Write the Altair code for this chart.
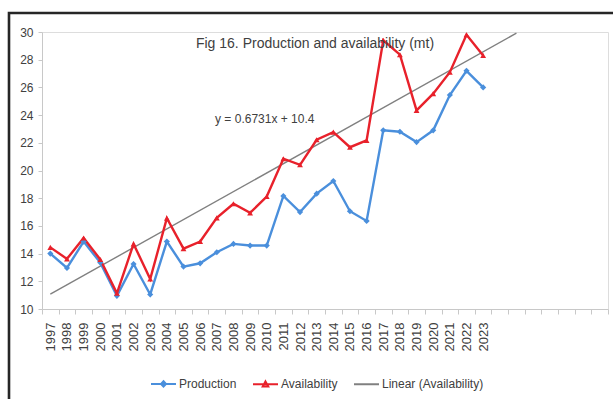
import altair as alt
import pandas as pd

# Years on the category axis (labels shown through 2023, blank slots after)
years = [str(y) for y in range(1997, 2024)]
axis_years = [str(y) for y in range(1997, 2031)]

production = [14.0, 12.96, 14.87, 13.35, 10.95, 13.25, 11.05, 14.87, 13.06, 13.3,
              14.1, 14.7, 14.58, 14.58, 18.16, 17.0, 18.33, 19.24, 17.06, 16.36,
              22.9, 22.8, 22.05, 22.9, 25.45, 27.2, 26.0]
availability = [14.45, 13.62, 15.13, 13.58, 11.13, 14.7, 12.17, 16.55, 14.36, 14.87,
                16.58, 17.6, 16.94, 18.12, 20.85, 20.41, 22.22, 22.77, 21.68, 22.17,
                29.4, 28.36, 24.34, 25.55, 27.1, 29.8, 28.3]

# Linear trend of availability, y = 0.6731x + 10.4, forecast two periods forward
slope, intercept = 0.6731, 10.4
trend_x = [1, 29]
equation = "y = 0.6731x + 10.4"
title_text = "Fig 16. Production and availability (mt)"

series_names = ["Production", "Availability", "Linear (Availability)"]
series_colors = ["#4a8fdc", "#e8212b", "#808080"]
# Legend glyphs: a short line with the series marker in the middle
legend_shapes = [
    "M-1,0H1M0,-0.22L0.2,0L0,0.22L-0.2,0Z",
    "M-1,0H1M0,-0.22L0.22,0.18H-0.22Z",
    "M-1,0H1",
]

FONT = "Liberation Sans Narrow, Liberation Sans, sans-serif"
TEXT = "#404040"

df = pd.DataFrame({
    "year": years * 2,
    "series": ["Production"] * len(years) + ["Availability"] * len(years),
    "value": production + availability,
})
trend = pd.DataFrame({
    "year": [axis_years[i - 1] for i in trend_x],
    "value": [slope * i + intercept for i in trend_x],
})

x_enc = alt.X(
    "year:O",
    scale=alt.Scale(domain=axis_years, paddingInner=0, paddingOuter=0),
    axis=alt.Axis(
        title=None, labelAngle=-90, tickBand="extent",
        labelExpr="toNumber(datum.value) <= 2023 ? datum.value : ''",
        labelFont=FONT, labelFontSize=13, labelColor=TEXT, labelPadding=8,
        domainColor="#c8c8c8", tickColor="#c8c8c8", tickSize=5, grid=False,
    ),
)
y_enc = alt.Y(
    "value:Q",
    scale=alt.Scale(domain=[10, 30], nice=False, zero=False),
    axis=alt.Axis(
        title=None, values=list(range(10, 31, 2)), labelOverlap=False,
        labelFont=FONT, labelFontSize=12, labelColor=TEXT, labelPadding=5,
        domainColor="#c8c8c8", tickColor="#c8c8c8", tickSize=4, grid=False,
    ),
)

base = alt.Chart(df).encode(x=x_enc, y=y_enc)

trend_line = alt.Chart(trend).mark_line(color="#808080", strokeWidth=1.4).encode(
    x=x_enc, y=y_enc
)

prod = base.transform_filter(alt.datum.series == "Production")
avail = base.transform_filter(alt.datum.series == "Availability")

prod_line = prod.mark_line(color=series_colors[0], strokeWidth=2.4)
prod_pts = prod.mark_point(shape="diamond", filled=True, size=38, opacity=1,
                           color=series_colors[0])
avail_line = avail.mark_line(color=series_colors[1], strokeWidth=2.4)
avail_pts = avail.mark_point(shape="triangle-up", filled=True, size=34, opacity=1,
                             color=series_colors[1])

eq_text = alt.Chart(pd.DataFrame({"year": ["2010"], "value": [23.75], "t": [equation]})).mark_text(
    font=FONT, fontSize=12, color=TEXT, dx=-2
).encode(x=x_enc, y=y_enc, text="t:N")

legend_opts = dict(
    title=None, orient="none", direction="horizontal", columns=3,
    legendX=108, legendY=338, symbolSize=625, symbolStrokeWidth=2,
    labelFont=FONT, labelFontSize=12, labelColor=TEXT,
    labelOffset=2, columnPadding=12, symbolOpacity=1,
)

# Legend-only layer: no marks drawn, scales carry the three entries
legend_layer = base.transform_filter("datum.value < 0").mark_point(
    filled=False, strokeWidth=2, opacity=1
).encode(
    color=alt.Color("series:N", scale=alt.Scale(domain=series_names, range=series_colors),
                    legend=alt.Legend(**legend_opts)),
    shape=alt.Shape("series:N", scale=alt.Scale(domain=series_names, range=legend_shapes),
                    legend=alt.Legend(**legend_opts)),
)

# Dark frame around the figure
frame = alt.Chart(alt.Data(values=[{"k": 1}])).mark_rect(
    fill=None, stroke="#262626", strokeWidth=2.6
).encode(x=alt.value(-33), x2=alt.value(700), y=alt.value(-19), y2=alt.value(500))

chart = alt.layer(
    trend_line, prod_line, avail_line, prod_pts, avail_pts, eq_text, legend_layer, frame
).properties(
    width=566, height=277,
    title=alt.TitleParams(title_text, font=FONT, fontSize=14, fontWeight="normal",
                          color=TEXT, anchor="middle", frame="group", dx=-10,
                          dy=46, offset=0, baseline="middle"),
    autosize=alt.AutoSizeParams(type="none"),
    padding={"left": 42, "top": 32, "right": 5, "bottom": 90},
).configure_view(stroke=None).configure(background="white")

chart.save("out.html", embed_options={"renderer": "svg", "actions": False})
